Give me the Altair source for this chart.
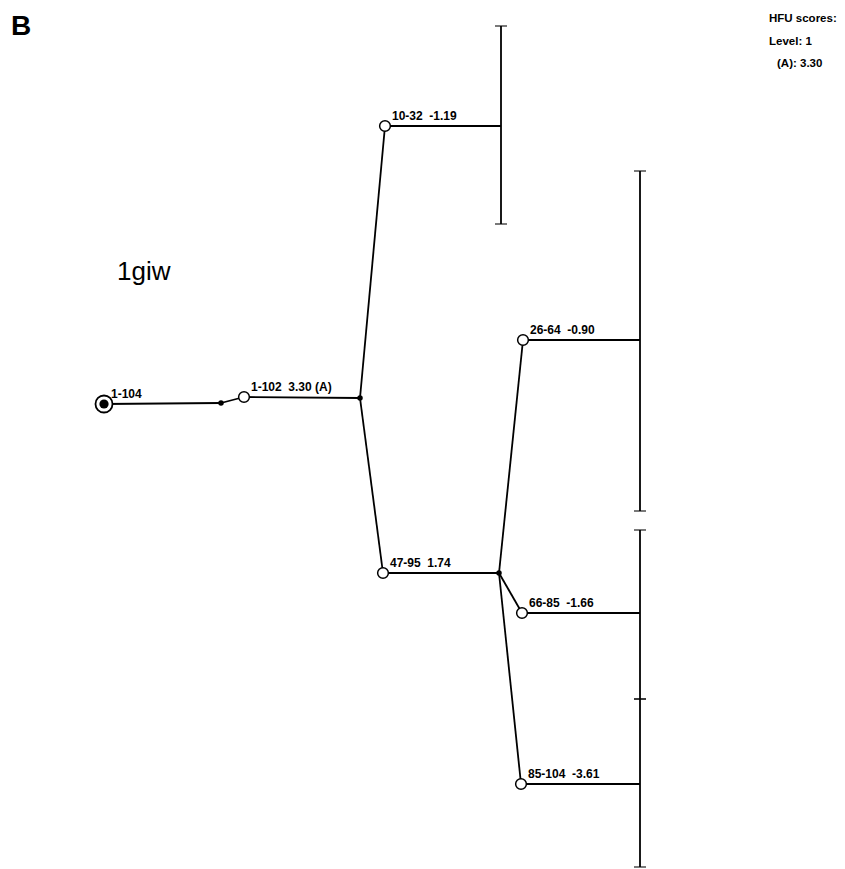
import altair as alt
import pandas as pd

# ---- data ----
point_names = ["root", "j1", "1-102", "j2", "10-32", "47-95", "j3", "26-64", "66-85", "85-104",
               "e10-32", "e26-64", "e66-85", "e85-104"]
point_x = [104, 221, 244, 360, 385, 383, 499, 523, 522, 521, 501, 640, 640, 640]
point_y = [404, 403, 397, 398, 126, 573, 573, 340, 613, 784, 126, 340, 613, 784]

edge_from = ["root", "j1", "1-102", "j2", "j2", "10-32", "47-95", "j3", "j3", "j3", "26-64", "66-85", "85-104"]
edge_to = ["j1", "1-102", "j2", "10-32", "47-95", "e10-32", "j3", "26-64", "66-85", "85-104", "e26-64", "e66-85", "e85-104"]

open_nodes = ["1-102", "10-32", "47-95", "26-64", "66-85", "85-104"]
junctions = ["j1", "j2", "j3"]

label_nodes = ["root", "1-102", "10-32", "47-95", "26-64", "66-85", "85-104"]
label_range = ["1-104", "1-102", "10-32", "47-95", "26-64", "66-85", "85-104"]
label_score = ["", "3.30 (A)", "-1.19", "1.74", "-0.90", "-1.66", "-3.61"]

bar_x = [501, 640, 640, 640]
bar_top = [26, 171, 530, 699]
bar_bottom = [224, 511, 699, 867]

legend_lines = ["HFU scores:", "Level: 1", "(A): 3.30"]
legend_indent = [0, 0, 8]
legend_y = [22, 45, 67]

# ---- tables ----
pos = dict(zip(point_names, zip(point_x, point_y)))
edges = pd.DataFrame({
    "x": [pos[a][0] for a in edge_from], "y": [pos[a][1] for a in edge_from],
    "x2": [pos[b][0] for b in edge_to], "y2": [pos[b][1] for b in edge_to],
})
opens = pd.DataFrame({"x": [pos[n][0] for n in open_nodes], "y": [pos[n][1] for n in open_nodes]})
juncs = pd.DataFrame({"x": [pos[n][0] for n in junctions], "y": [pos[n][1] for n in junctions]})
root = pd.DataFrame({"x": [pos["root"][0]], "y": [pos["root"][1]]})
labels = pd.DataFrame({
    "x": [pos[n][0] for n in label_nodes], "y": [pos[n][1] for n in label_nodes],
    "t": [r + ("\u00a0\u00a0" + s if s else "") for r, s in zip(label_range, label_score)],
})
bars = pd.DataFrame({"x": bar_x, "y": bar_top, "y2": bar_bottom})
caps = pd.DataFrame({"x": bar_x + bar_x, "y": bar_top + bar_bottom})
legend = pd.DataFrame({"t": legend_lines, "y": legend_y, "x": [769 + i for i in legend_indent]})

W, H = 829, 853
xs = alt.Scale(domain=[8, 8 + W])
ys = alt.Scale(domain=[8, 8 + H], reverse=True)
X = lambda f="x": alt.X(f, type="quantitative", scale=xs, axis=None)
Y = lambda f="y": alt.Y(f, type="quantitative", scale=ys, axis=None)
FONT = "Liberation Sans"

edge_layer = alt.Chart(edges).mark_rule(color="black", strokeWidth=1.8).encode(
    x=X(), y=Y(), x2="x2", y2="y2")
bar_layer = alt.Chart(bars).mark_rule(color="black", strokeWidth=1.8).encode(
    x=X(), y=Y(), y2="y2")
cap_layer = alt.Chart(caps).mark_tick(color="black", orient="horizontal", size=12, thickness=1.5).encode(
    x=X(), y=Y())
open_layer = alt.Chart(opens).mark_point(shape="circle", filled=True, fill="white", stroke="black",
                                         strokeWidth=1.5, size=115, opacity=1).encode(x=X(), y=Y())
junc_layer = alt.Chart(juncs).mark_point(shape="circle", filled=True, color="black", size=30,
                                         opacity=1).encode(x=X(), y=Y())
root_outer = alt.Chart(root).mark_point(shape="circle", filled=True, fill="white", stroke="black",
                                        strokeWidth=1.8, size=290, opacity=1).encode(x=X(), y=Y())
root_inner = alt.Chart(root).mark_point(shape="circle", filled=True, color="black", size=85,
                                        opacity=1).encode(x=X(), y=Y())
label_layer = alt.Chart(labels).mark_text(align="left", baseline="alphabetic", dx=7, dy=-6,
                                          font=FONT, fontSize=12, fontWeight="bold",
                                          color="black").encode(x=X(), y=Y(), text="t:N")

title_b = alt.Chart(pd.DataFrame({"t": ["B"]})).mark_text(
    align="left", baseline="alphabetic", font=FONT, fontSize=28, fontWeight="bold", color="black"
).encode(x=alt.value(3), y=alt.value(27), text="t:N")
title_p = alt.Chart(pd.DataFrame({"t": ["1giw"]})).mark_text(
    align="left", baseline="alphabetic", font=FONT, fontSize=26, color="black"
).encode(x=alt.value(109), y=alt.value(272), text="t:N")
legend_layer = alt.Chart(legend).mark_text(
    align="left", baseline="alphabetic", font=FONT, fontSize=11.5, fontWeight="bold", color="black"
).encode(x=X(), y=Y(), text="t:N")

chart = alt.layer(
    edge_layer, bar_layer, cap_layer, junc_layer, open_layer, root_outer, root_inner,
    label_layer, title_b, title_p, legend_layer
).properties(width=W, height=H, padding=0, background="white").configure_view(stroke=None)

chart.save("out.html", embed_options={"renderer": "svg", "actions": False})
